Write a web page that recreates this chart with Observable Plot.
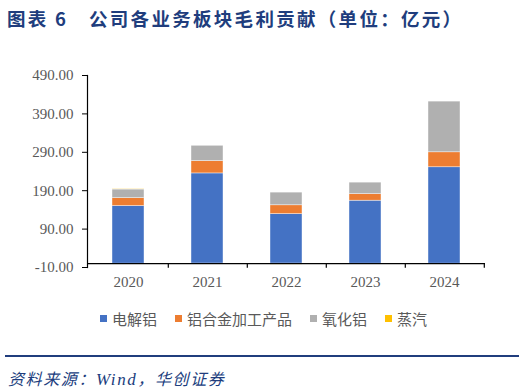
<!DOCTYPE html>
<html><head><meta charset="utf-8">
<script src="https://cdn.jsdelivr.net/npm/d3@7"></script>
<script src="https://cdn.jsdelivr.net/npm/@observablehq/plot@0.6"></script>
<style>
html,body{margin:0;padding:0;background:#fff;}
#wrap{position:relative;width:524px;height:390px;overflow:hidden;background:#fff;}
.title{position:absolute;top:5px;font-family:"Noto Sans CJK SC";font-weight:bold;font-size:18.5px;color:#203D7D;letter-spacing:2.3px;white-space:pre;}
#t1{left:7px;}
#t2{left:89px;}
#chart{position:absolute;left:0;top:40px;}
#legend{position:absolute;left:100px;top:308px;display:flex;gap:18px;font-family:"Noto Sans CJK SC";font-size:15px;color:#595959;}
#legend .it{display:flex;align-items:center;}
#legend .sw{width:7px;height:7px;margin-right:5px;}
#rule{position:absolute;left:5px;top:355px;width:514px;height:2px;background:#203D7D;}
#source{position:absolute;left:8px;top:366px;font-family:"Noto Sans CJK SC";font-style:italic;font-size:16px;color:#203D7D;letter-spacing:1.6px;}
#source .w{font-family:"Liberation Serif";font-size:17px;}
</style></head>
<body><div id="wrap">
<div class="title" id="t1">图表 6</div>
<div class="title" id="t2">公司各业务板块毛利贡献（单位：亿元）</div>
<div id="chart"></div>
<div id="legend"></div>
<div id="rule"></div>
<div id="source">资料来源：<span class="w">Wind</span>，华创证券</div>
</div>
<script>
const years = ["2020", "2021", "2022", "2023", "2024"];
const seriesNames = ["电解铝", "铝合金加工产品", "氧化铝", "蒸汽"];
const electrolytic = [150, 235, 129, 164, 251];
const alloy = [20.6, 32, 23, 17, 39];
const alumina = [22.5, 40, 33, 30, 132];
const steam = [1.2, -1, -2.5, 0, 0];
const yTicks = [-10, 90, 190, 290, 390, 490];
const colors = ["#4472C4", "#ED7D31", "#B0B0B0", "#FFC000"];

const seriesValues = [electrolytic, alloy, alumina, steam];
const rows = [];
years.forEach((yr, i) => {
  seriesNames.forEach((s, j) => rows.push({year: yr, series: s, value: seriesValues[j][i]}));
});

const W = 524, ML = 87, MR = 39;
const step = (W - ML - MR) / years.length;
const fmt = v => d3.format(".2f")(v).replace("\u2212", "-");

const chart = Plot.plot({
  width: W, height: 260,
  marginTop: 35, marginBottom: 33, marginLeft: ML, marginRight: MR,
  style: {fontFamily: "Liberation Serif", fontSize: "15px", color: "#595959", background: "transparent"},
  x: {domain: years, paddingInner: 0.6, paddingOuter: 0.3, label: null, axis: null},
  y: {domain: [-10, 490], label: null, axis: null},
  color: {domain: seriesNames, range: colors},
  marks: [
    Plot.barY(rows, {x: "year", y: "value", fill: "series", order: seriesNames, stroke: "white", strokeWidth: 0.6, strokeOpacity: 0.7}),
    Plot.ruleY([0], {stroke: "#000", strokeWidth: 1.2}),
    Plot.ruleX(years, {x: d => d, y1: 0, y2: -12, dx: step / 2, stroke: "#000", strokeWidth: 1.2}),
    Plot.axisY({ticks: yTicks, tickFormat: fmt, tickSize: 5, tickPadding: 9, stroke: "#000", fill: "#595959", label: null}),
    Plot.axisX({tickSize: 0, tickPadding: 9, fill: "#595959", label: null}),
    Plot.frame({anchor: "left", stroke: "#000", strokeWidth: 1.2})
  ]
});
document.getElementById("chart").appendChild(chart);

const lg = document.getElementById("legend");
seriesNames.forEach((s, j) => {
  const it = document.createElement("div"); it.className = "it";
  const sw = document.createElement("div"); sw.className = "sw"; sw.style.background = colors[j];
  const tx = document.createElement("span"); tx.textContent = s;
  it.appendChild(sw); it.appendChild(tx); lg.appendChild(it);
});
</script>
</body></html>
